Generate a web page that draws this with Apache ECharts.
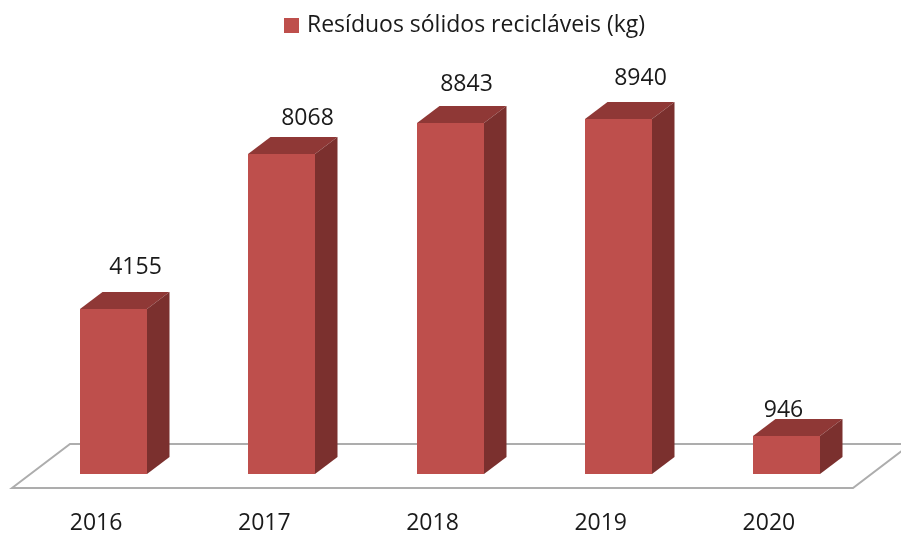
<!doctype html>
<html lang="pt">
<head>
  <meta charset="UTF-8">
  <title>Resíduos sólidos recicláveis</title>
  <script src="https://cdn.jsdelivr.net/npm/echarts@6/dist/echarts.min.js"></script>
  <style type="text/css">
    html, body { width: 100%; height: 100%; margin: 0; padding: 0; background: #fff; overflow: hidden; }
    #canvas { width: 901px; height: 533px; }
  </style>
</head>

<body>
<div id="canvas"></div>

<script type="text/javascript">
  const years = ['2016', '2017', '2018', '2019', '2020']
  const weights = [4155, 8068, 8843, 8940, 946]
  const seriesName = 'Resíduos sólidos recicláveis (kg)'

  // labels don't sit centred over the bars in the original
  const labelShiftX = [22, 26, 16, 22, -3]
  const labelShiftY = [-25, -19, -22, -24, -9]

  const font = '"Open Sans", sans-serif'
  const barWidth = 67
  const depthX = 22.5
  const depthY = 17
  // bars stand a bit inside the floor, not on its front edge
  const standX = 17.5
  const standY = 14

  const chart = echarts.init(document.getElementById('canvas'))

  const renderBar = (params, api) => {
    const index = api.value(0)
    const top = api.coord([index, api.value(1)])
    const base = api.coord([index, 0])
    const left = Math.round(top[0] + standX - barWidth / 2)
    const right = left + barWidth
    const y0 = Math.round(top[1] - standY)
    const y1 = Math.round(base[1] - standY)

    return {
      type: 'group',
      children: [
        {
          type: 'polygon',
          shape: { points: [[left, y0], [left + depthX, y0 - depthY], [right + depthX, y0 - depthY], [right, y0]] },
          style: { fill: '#8f3836' },
        },
        {
          type: 'polygon',
          shape: { points: [[right, y0], [right + depthX, y0 - depthY], [right + depthX, y1 - depthY], [right, y1]] },
          style: { fill: '#7b302e' },
        },
        {
          type: 'rect',
          shape: { x: left, y: y0, width: barWidth, height: y1 - y0 },
          style: { fill: '#be4f4c' },
        },
        {
          type: 'text',
          x: left + barWidth / 2 + labelShiftX[index],
          y: y0 - depthY + labelShiftY[index],
          style: {
            text: String(api.value(1)),
            font: `23px ${font}`,
            fill: '#1a1a1a',
            align: 'center',
            verticalAlign: 'middle',
          },
        },
      ],
    }
  }

  const renderFloor = params => {
    const sys = params.coordSys
    const x0 = sys.x
    const x1 = sys.x + sys.width
    const y = sys.y + sys.height

    return {
      type: 'polygon',
      shape: { points: [[x0, y], [x0 + 58, y - 44], [x1 + 58, y - 44], [x1, y]] },
      style: { fill: 'none', stroke: '#adadad', lineWidth: 2 },
    }
  }

  chart.setOption({
    animation: false,
    legend: {
      data: [seriesName],
      top: 9,
      left: 279,
      itemWidth: 15,
      itemHeight: 15,
      itemGap: 8,
      icon: 'rect',
      textStyle: { fontFamily: font, fontSize: 23, color: '#1a1a1a', padding: [4, 0, 0, 3] },
    },
    grid: { left: 12, width: 841, top: 91, height: 397, outerBoundsMode: 'none' },
    xAxis: {
      type: 'category',
      data: years,
      axisLine: { show: false },
      axisTick: { show: false },
      axisLabel: { margin: 24, fontFamily: font, fontSize: 23, color: '#1a1a1a' },
    },
    yAxis: {
      type: 'value',
      show: false,
      min: 0,
      max: 10000,
    },
    series: [
      {
        type: 'custom',
        name: 'floor',
        silent: true,
        clip: false,
        z: 1,
        renderItem: renderFloor,
        data: [[0, 0]],
      },
      {
        type: 'custom',
        name: seriesName,
        clip: false,
        z: 2,
        itemStyle: { color: '#be4f4c' },
        renderItem: renderBar,
        encode: { x: 0, y: 1 },
        data: weights.map((value, index) => [index, value]),
      },
    ],
  })
</script>
</body>
</html>
